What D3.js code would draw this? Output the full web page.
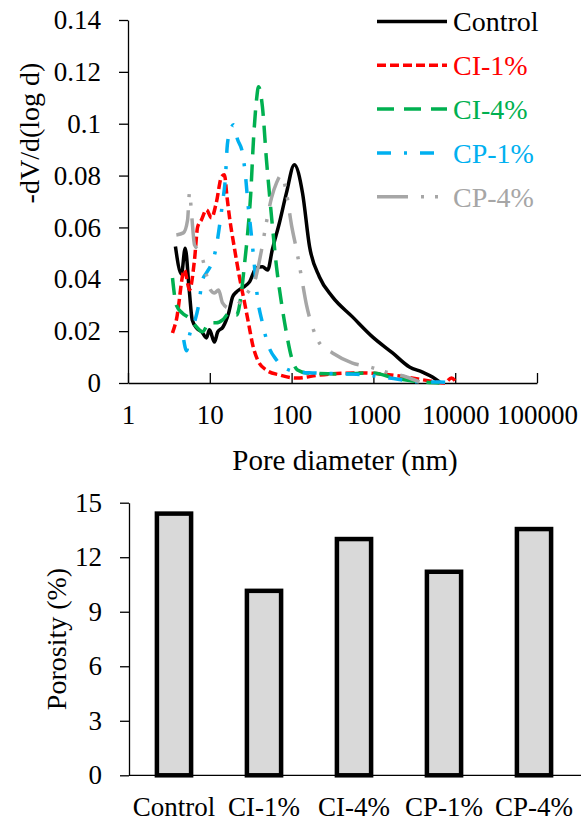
<!DOCTYPE html>
<html>
<head>
<meta charset="utf-8">
<script src="https://cdn.jsdelivr.net/npm/d3@7"></script>
<style>
  body { margin: 0; background: #fff; }
  svg text { font-family: "Liberation Serif", "Times New Roman", serif; }
  .tick text { font-size: 27px; fill: #000; }
  .domain, .tick line { stroke: #000; stroke-width: 1.3; }
</style>
</head>
<body>
<svg width="585" height="822"></svg>
<script>
// pore size distribution, [diameter nm, -dV/d(log d)]
const control = [[3.8,0.0526],[4.5,0.042],[5.0,0.052],[5.6,0.036],[6.1,0.0243],[7.0,0.021],[8.0,0.0197],[9.1,0.0174],[9.9,0.0205],[11.4,0.0158],[12.5,0.0197],[14.5,0.0216],[17,0.027],[19,0.0332],[21,0.035],[25,0.0367],[30.6,0.039],[37,0.0444],[44,0.0448],[51,0.0436],[58,0.0513],[71,0.0618],[86.5,0.0733],[108,0.0842],[136,0.0733],[166,0.0525],[219,0.0409],[316,0.0332],[555,0.0255],[975,0.0178],[1714,0.0116],[2760,0.0062],[3980,0.0042],[5270,0.0023],[6430,0.0004]];
const ci1 = [[3.5,0.0193],[3.9,0.0243],[4.9,0.0436],[5.65,0.0359],[6.5,0.0475],[7.1,0.0602],[7.9,0.0629],[9.1,0.0668],[10.5,0.0637],[12,0.0695],[13.9,0.0795],[15.1,0.0803],[16.2,0.072],[17.4,0.064],[20,0.052],[23,0.041],[26.6,0.031],[30.6,0.021],[33.3,0.015],[38.3,0.009],[49,0.005],[71,0.0031],[115,0.0019],[221,0.0031],[677,0.0039],[2090,0.0027],[4850,0.0008],[7400,0],[9000,0.0019],[10380,0]];
const ci4 = [[3.5,0.0405],[3.9,0.030],[4.6,0.027],[5.6,0.025],[6.9,0.0216],[8.1,0.0197],[9.9,0.0232],[12,0.0232],[14.3,0.0243],[17.4,0.027],[21.2,0.0262],[24.4,0.0351],[26.5,0.0455],[28.9,0.0571],[31.6,0.0726],[34.2,0.0938],[37.2,0.109],[39.4,0.1143],[44,0.1065],[49.3,0.086],[53.7,0.0726],[58.4,0.0602],[65.4,0.0448],[75.2,0.0309],[86.5,0.0193],[99.6,0.01],[118,0.005],[152,0.0039],[385,0.0035],[977,0.0039],[1820,0.0019],[3020,0.0008],[6430,0]];
const cp1 = [[4.8,0.0166],[5.2,0.0124],[5.65,0.0185],[6.5,0.0235],[7.3,0.030],[8.1,0.0395],[9.1,0.0425],[10.5,0.046],[12,0.0525],[13.2,0.061],[14.3,0.0695],[15.5,0.079],[16.4,0.092],[17.9,0.0975],[19.5,0.0996],[21.8,0.094],[25,0.089],[27.3,0.08],[29.5,0.068],[31.5,0.06],[34.2,0.049],[38.3,0.0328],[44,0.0232],[50.7,0.0154],[65.4,0.0089],[86.5,0.0054],[125,0.0042],[180,0.0039],[468,0.0035],[822,0.0031],[1570,0.0019],[3980,0.0004],[6430,0.0004],[9000,0]];
const cp4 = [[3.9,0.0571],[4.75,0.0579],[5.35,0.0629],[5.65,0.0733],[6.0,0.0648],[6.5,0.0533],[7.3,0.0513],[8.1,0.0482],[9.1,0.0417],[10.2,0.0359],[11.4,0.0347],[12.8,0.0359],[14.3,0.0309],[16.9,0.029],[20.6,0.0297],[25.8,0.0328],[30.6,0.0359],[36.3,0.0405],[42.9,0.0513],[49.3,0.0621],[56.8,0.0714],[65.4,0.0772],[75.2,0.0803],[86.5,0.0733],[99.6,0.061],[115,0.0513],[132,0.0409],[152,0.0301],[180,0.0216],[219,0.0154],[316,0.0116],[555,0.0077],[895,0.0062],[1445,0.0042],[2535,0.0023],[3660,0.0004]];

const seriesNames = ['Control', 'CI-1%', 'CI-4%', 'CP-1%', 'CP-4%'];
const seriesData = [control, ci1, ci4, cp1, cp4];
const seriesColors = ['#000000', '#FF0000', '#00B050', '#00B0F0', '#A6A6A6'];
const seriesDash = ['none', '9,4', '17,10', '14,13,3,13', '31,13,3,11,3,13'];

const xTicks = [1, 10, 100, 1000, 10000, 100000];
const yTicks = [0, 0.02, 0.04, 0.06, 0.08, 0.1, 0.12, 0.14];

// total porosity
const categories = ['Control', 'CI-1%', 'CI-4%', 'CP-1%', 'CP-4%'];
const porosity = [14.4, 10.15, 13.0, 11.2, 13.55];
const porTicks = [0, 3, 6, 9, 12, 15];

const svg = d3.select('svg');

// ---- top chart ----
const x = d3.scaleLog().domain([1, 100000]).range([128, 537]);
const y = d3.scaleLinear().domain([0, 0.14]).range([383, 20]);

const topG = svg.append('g');

topG.append('g')
  .attr('transform', 'translate(0,383)')
  .call(d3.axisBottom(x).tickValues(xTicks).tickFormat(d3.format('d')).tickSize(-10).tickSizeOuter(0).tickPadding(22))
  .call(g => g.selectAll('.tick text').attr('dy', '0.71em'));

topG.append('g')
  .attr('transform', 'translate(128,0)')
  .call(d3.axisLeft(y).tickValues(yTicks).tickFormat(d => d === 0 ? '0' : String(+d.toFixed(2))).tickSize(9).tickSizeOuter(0).tickPadding(18));

topG.append('text')
  .attr('x', 345).attr('y', 470)
  .attr('text-anchor', 'middle').attr('font-size', 29)
  .text('Pore diameter (nm)');

topG.append('text')
  .attr('transform', 'translate(39,133) rotate(-90)')
  .attr('text-anchor', 'middle').attr('font-size', 28)
  .text('-dV/d(log d)');

const line = d3.line()
  .x(d => x(d[0]))
  .y(d => y(d[1]))
  .curve(d3.curveMonotoneX);

topG.selectAll('path.series')
  .data(seriesData)
  .join('path')
  .attr('class', 'series')
  .attr('d', line)
  .attr('fill', 'none')
  .attr('stroke', (d, i) => seriesColors[i])
  .attr('stroke-width', 3.5)
  .attr('stroke-dasharray', (d, i) => seriesDash[i])
  .attr('stroke-linejoin', 'round');

// legend
const legend = topG.append('g');
const legendRows = legend.selectAll('g')
  .data(seriesNames)
  .join('g')
  .attr('transform', (d, i) => `translate(377,${21.5 + i * 43.8})`);
legendRows.append('line')
  .attr('x1', 0).attr('x2', 70)
  .attr('stroke', (d, i) => seriesColors[i])
  .attr('stroke-width', 3.5)
  .attr('stroke-dasharray', (d, i) => seriesDash[i]);
legendRows.append('text')
  .attr('x', 76).attr('dy', '0.35em')
  .attr('font-size', 28)
  .attr('fill', (d, i) => seriesColors[i])
  .text(d => d);

// ---- bottom chart ----
const xb = d3.scaleBand().domain(categories).range([129, 579]).paddingInner(0.62).paddingOuter(0.31);
const yb = d3.scaleLinear().domain([0, 15]).range([775.3, 502.7]);

const bottomG = svg.append('g');

bottomG.append('g')
  .attr('transform', 'translate(129,0)')
  .call(d3.axisLeft(yb).tickValues(porTicks).tickSize(9).tickSizeOuter(0).tickPadding(18));

bottomG.append('g')
  .attr('transform', 'translate(0,775.3)')
  .call(d3.axisBottom(xb).tickSize(0).tickPadding(22))
  .call(g => g.select('.domain').attr('d', 'M129,0H581'))
  .call(g => g.selectAll('.tick text').attr('dy', '0.71em'));

bottomG.selectAll('rect')
  .data(porosity)
  .join('rect')
  .attr('x', (d, i) => xb(categories[i]))
  .attr('width', xb.bandwidth())
  .attr('y', d => yb(d))
  .attr('height', d => yb(0) - yb(d))
  .attr('fill', '#D9D9D9')
  .attr('stroke', '#000')
  .attr('stroke-width', 4.5);

bottomG.append('text')
  .attr('transform', 'translate(66,639) rotate(-90)')
  .attr('text-anchor', 'middle').attr('font-size', 28)
  .text('Porosity (%)');
</script>
</body>
</html>
